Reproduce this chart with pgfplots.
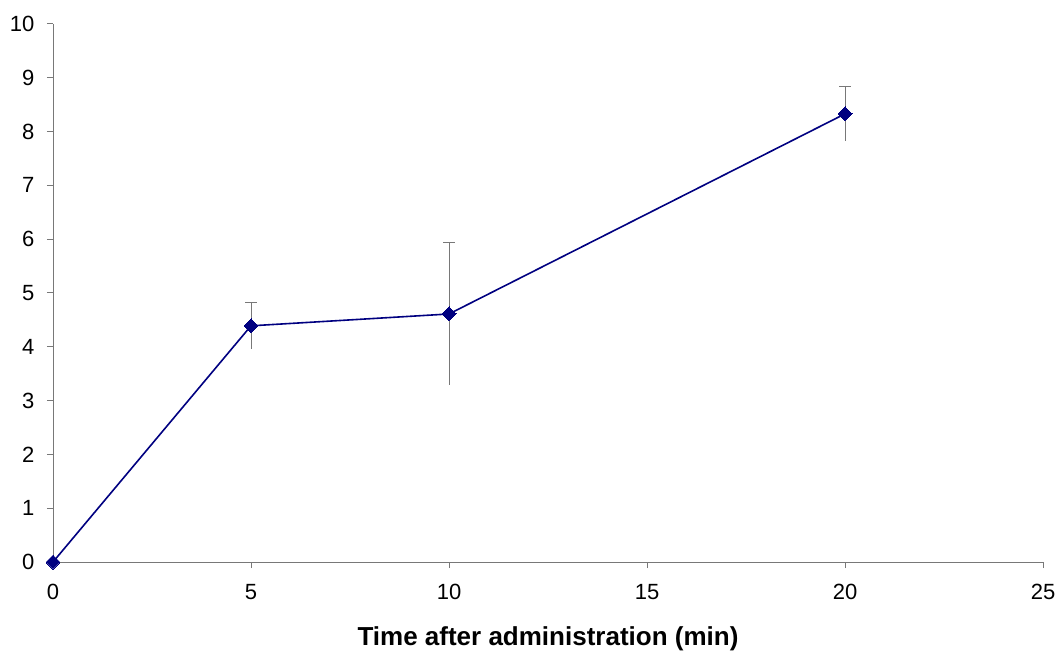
\documentclass[border=0pt]{standalone}
\usepackage{fontspec}
\setmainfont{Liberation Sans}
\usepackage{pgfplots}
\usepackage{pgfplotstable}
\pgfplotsset{compat=1.18}
\definecolor{navy}{RGB}{0,0,128}
\definecolor{axgray}{RGB}{120,120,120}
\pgfplotstableread{
x y ey
5 4.39 0.43
10 4.61 1.32
20 8.33 0.50
}\errdata
\pgfplotstableread{
x y
0 0
5 4.39
10 4.61
20 8.33
}\meandata
\begin{document}
\begin{tikzpicture}
\path[use as bounding box] (0,0) rectangle (1057pt,654pt);
\begin{axis}[
  at={(53pt,92pt)}, anchor=south west,
  scale only axis, width=990pt, height=538pt,
  xmin=0, xmax=25, ymin=0, ymax=10,
  axis x line*=bottom, axis y line*=left,
  axis line style={axgray, line width=1pt},
  tick style={axgray, line width=1pt},
  tick align=outside, major tick length=6pt,
  xtick={0,5,...,25}, ytick={0,1,...,10},
  /pgf/number format/assume math mode=true,
  tick label style={font=\fontsize{22}{26}\selectfont, black},
  yticklabel style={xshift=-9pt},
  xticklabel style={yshift=-13pt},
  xlabel={\textbf{Time after administration (min)}},
  xlabel style={font=\fontsize{26}{30}\selectfont, yshift=-20pt},
  clip=false,
]
\addplot[draw=none, mark=none, forget plot,
  error bars/.cd, y dir=plus, y explicit,
  error bar style={axgray, line width=1pt},
  error mark options={axgray, line width=1pt, mark size=6pt, rotate=90}]
  table[x=x, y=y, y error=ey] {\errdata};
\addplot[draw=none, mark=none, forget plot,
  error bars/.cd, y dir=minus, y explicit, error mark=none,
  error bar style={axgray, line width=1pt}]
  table[x=x, y=y, y error=ey] {\errdata};
\addplot[navy, line width=1.6pt, mark=diamond*, mark size=7pt,
  mark options={fill=navy, draw=navy, line width=0pt, xscale=1.333}]
  table[x=x, y=y] {\meandata};
\end{axis}
\end{tikzpicture}
\end{document}
